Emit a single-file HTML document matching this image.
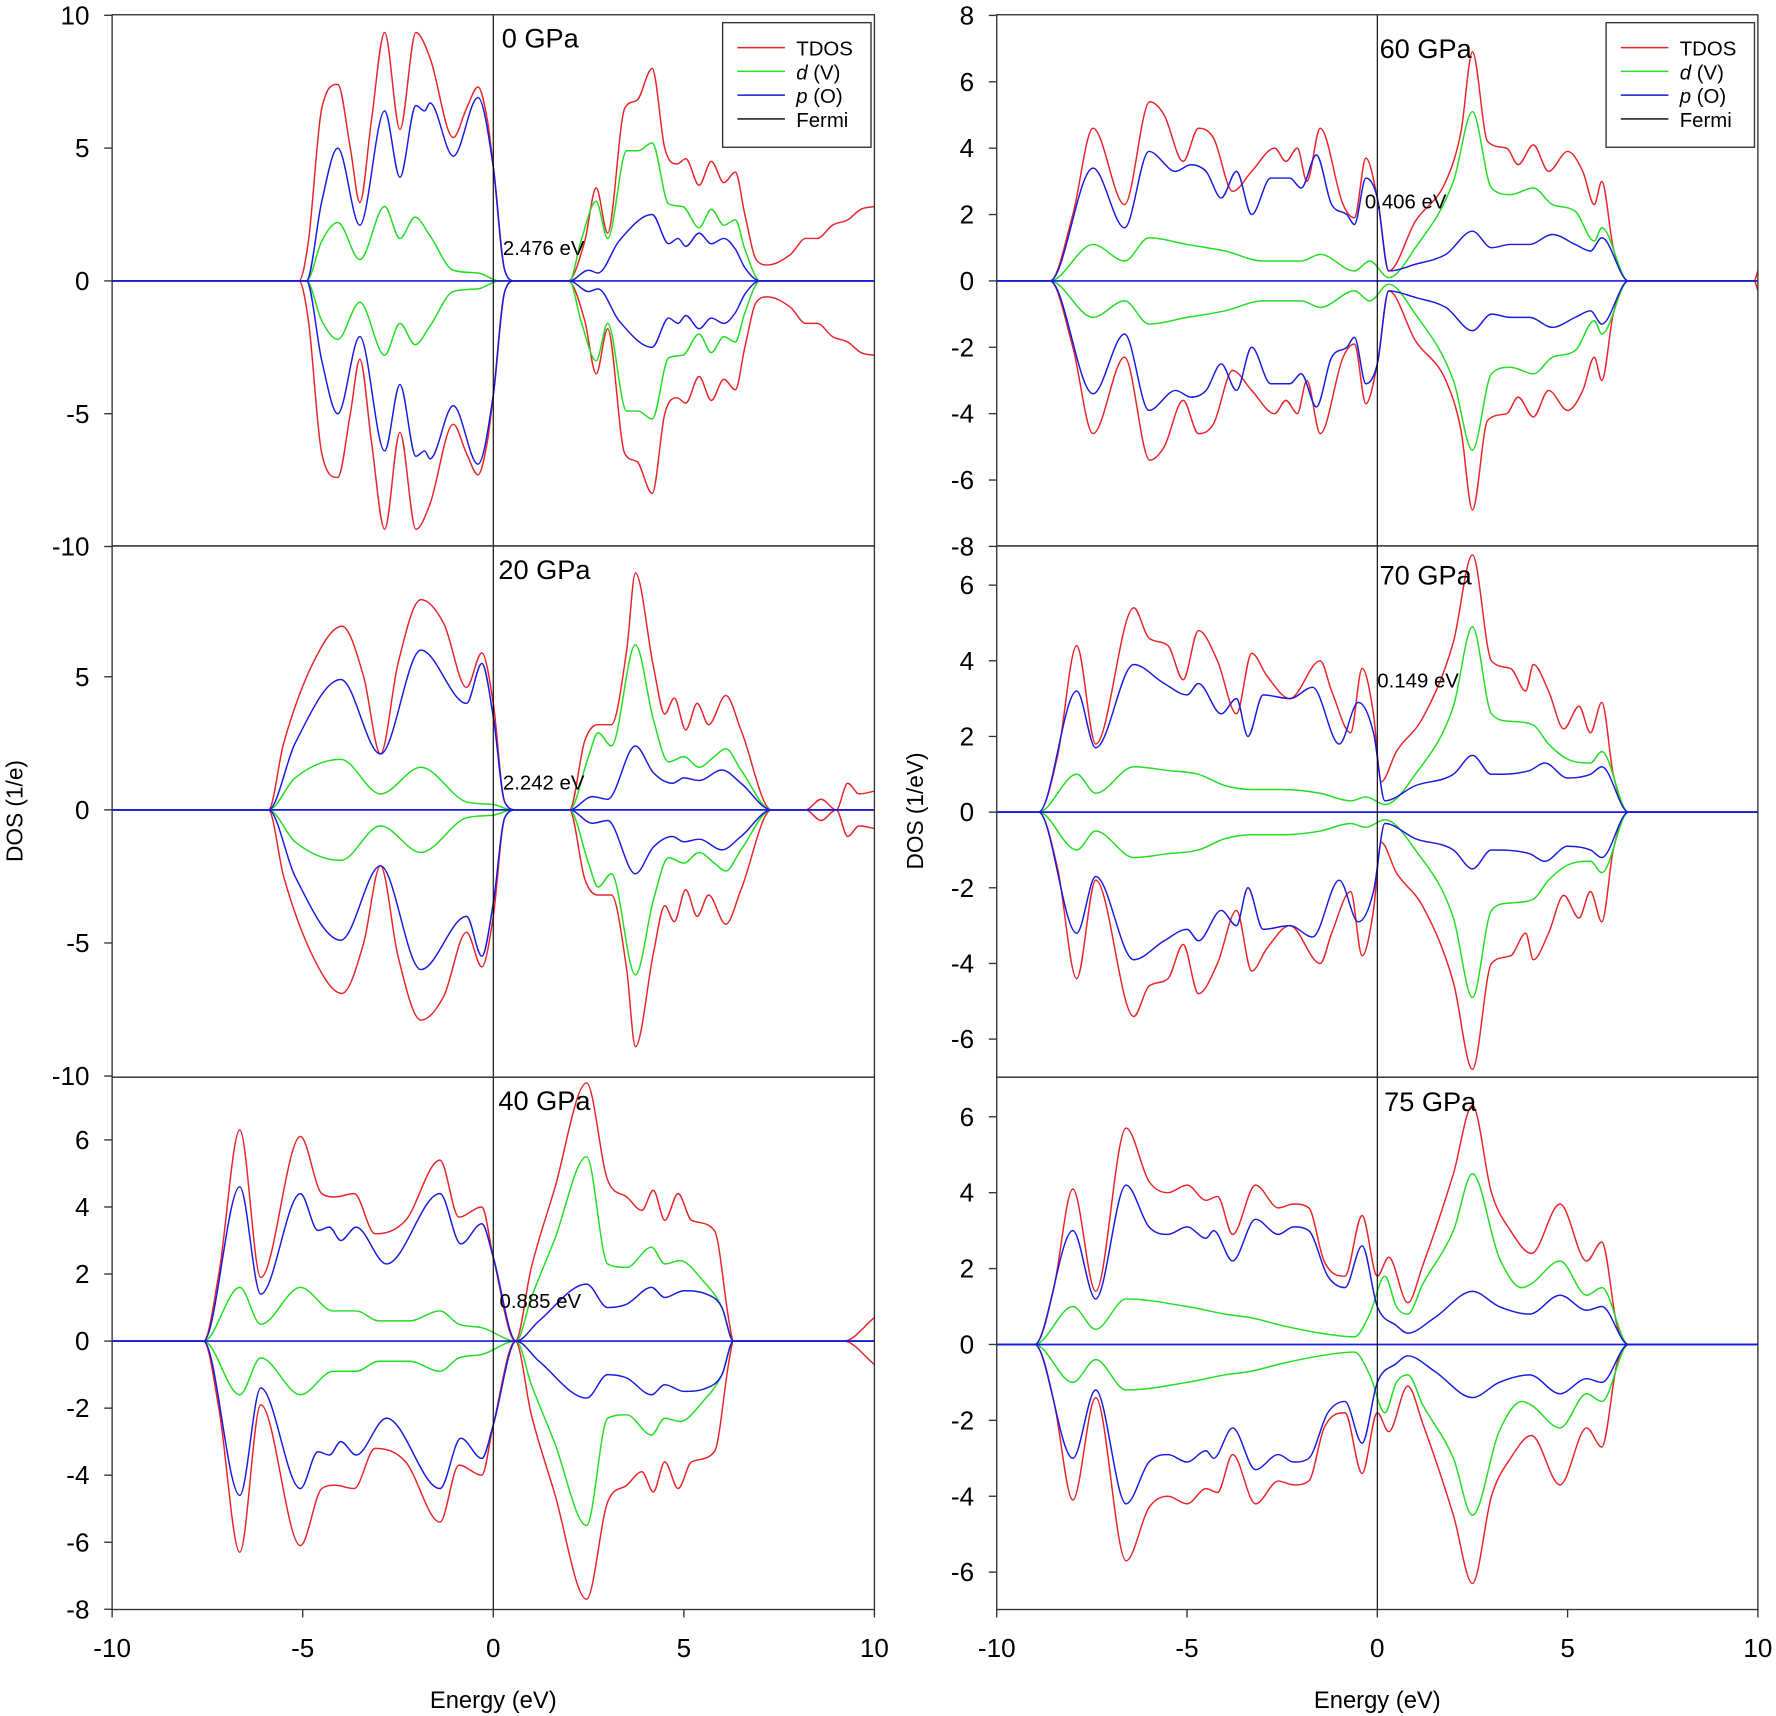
<!DOCTYPE html>
<html><head><meta charset="utf-8"><style>
html,body{margin:0;padding:0;background:#fff}
svg{display:block}
text{font-family:"Liberation Sans",Arial,sans-serif;fill:#000}
</style></head><body>
<svg id="s" width="1776" height="1716" viewBox="0 0 1568 1515" xmlns="http://www.w3.org/2000/svg">
<g id="g"></g>
</svg>
<script>
var NS="http://www.w3.org/2000/svg",g=document.getElementById('g');
function el(t,a,txt){var e=document.createElementNS(NS,t);for(var k in a)e.setAttribute(k,a[k]);if(txt!=null)e.textContent=txt;g.appendChild(e);return e;}
function mono(p,tf){var n=p.length,d=[],m=[];for(var i=0;i<n-1;i++)d.push((p[i+1][1]-p[i][1])/(p[i+1][0]-p[i][0]));
 m[0]=d[0];m[n-1]=d[n-2];for(i=1;i<n-1;i++){m[i]=(d[i-1]*d[i]<=0)?0:(d[i-1]+d[i])/2;}
 for(i=0;i<n-1;i++){if(d[i]==0){m[i]=0;m[i+1]=0;continue;}var a=m[i]/d[i],b=m[i+1]/d[i],s=a*a+b*b;if(s>9){var t=3/Math.sqrt(s);m[i]=t*a*d[i];m[i+1]=t*b*d[i];}}
 var q=tf(p[0]);var s="M"+q[0].toFixed(1)+","+q[1].toFixed(1);
 for(i=0;i<n-1;i++){var h=p[i+1][0]-p[i][0];var c1=tf([p[i][0]+h/3,p[i][1]+m[i]*h/3]),c2=tf([p[i+1][0]-h/3,p[i+1][1]-m[i+1]*h/3]),e=tf(p[i+1]);
 s+="C"+c1[0].toFixed(1)+","+c1[1].toFixed(1)+" "+c2[0].toFixed(1)+","+c2[1].toFixed(1)+" "+e[0].toFixed(1)+","+e[1].toFixed(1);}return s;}
function P(a){var r=[];for(var i=0;i<a.length;i+=2)r.push([a[i],a[i+1]]);return r;}
var panels=[
{x0:99,x1:772,y0:13,y1:482,zy:248,sy:23.45,lab:"0 GPa",lx:443,ly:42,gap:"2.476 eV",gx:444,gy:225,
 ticks:[10,5,0,-5,-10],legend:1,
 T:P([-10,0,-5.1,0,-4.85,1.5,-4.5,6.5,-4.08,7.4,-3.75,5,-3.5,2.95,-3.2,6,-2.85,9.35,-2.45,5.7,-2.03,9.35,-1.66,8.4,-1.05,5.4,-0.7,6.5,-0.4,7.3,-0.15,6,0,4.3,0.3,0.4,0.56,0,1.96,0,2.4,1.5,2.7,3.5,3.0,1.8,3.45,6.5,3.77,6.8,4.17,8.0,4.5,5,4.82,4.4,5.05,4.6,5.4,3.6,5.72,4.5,6.05,3.7,6.35,4.1,6.6,2.5,6.9,0.8,7.2,0.6,7.8,1.0,8.2,1.6,8.5,1.6,8.9,2.1,9.3,2.3,9.65,2.7,10,2.8]),
 D:P([-10,0,-4.9,0,-4.5,1.5,-4.08,2.2,-3.5,0.8,-2.85,2.8,-2.45,1.6,-2.05,2.4,-1.66,1.7,-1.05,0.4,-0.4,0.3,0.15,0,2.0,0,2.3,1.5,2.7,3.0,3.0,1.6,3.5,4.9,3.8,4.9,4.17,5.2,4.6,2.9,4.97,2.8,5.4,2.0,5.72,2.7,6.05,2.1,6.35,2.3,6.6,1.2,7.0,0,10,0]),
 B:P([-10,0,-4.9,0,-4.5,3,-4.08,5.0,-3.5,2.1,-2.85,6.4,-2.45,3.9,-2.03,6.6,-1.8,6.4,-1.66,6.7,-1.05,4.7,-0.4,6.9,0,4.3,0.3,0.4,0.56,0,2.0,0,2.5,0.4,2.75,0.3,3.3,1.5,4.17,2.5,4.6,1.4,4.85,1.6,5.05,1.3,5.4,1.8,5.72,1.4,6.05,1.6,6.35,1.2,6.6,0.5,7.0,0,10,0])},
{x0:99,x1:772,y0:482,y1:951,zy:715,sy:23.5,lab:"20 GPa",lx:440,ly:511,gap:"2.242 eV",gx:444,gy:697,
 ticks:[5,0,-5,-10],
 T:P([-10,0,-5.9,0,-5.5,2.5,-4.7,5.6,-3.97,6.9,-3.4,5,-2.96,2.1,-2.5,5.5,-1.9,7.9,-1.3,7,-0.7,4.6,-0.3,5.9,0,4,0.3,0.3,0.6,0,2.0,0,2.4,2.6,2.75,3.2,3.1,3.2,3.5,6,3.73,8.9,4.2,5.4,4.5,3.6,4.75,4.2,5.05,3.0,5.35,4.0,5.65,3.2,6.1,4.3,6.5,3,7.3,0,8.2,0,8.6,0.4,9.0,0,9.3,1,9.6,0.6,10,0.7]),
 D:P([-10,0,-5.9,0,-5.2,1.2,-4.0,1.9,-2.96,0.6,-1.9,1.6,-0.7,0.3,0,0.2,0.5,0,2.0,0,2.5,2.0,2.75,2.9,3.1,2.4,3.73,6.2,4.2,3.4,4.6,1.8,5.0,2.0,5.4,1.6,5.8,2.0,6.1,2.3,6.5,1.5,7.3,0,10,0]),
 B:P([-10,0,-5.9,0,-5.2,2.5,-4.0,4.9,-2.96,2.1,-1.9,6.0,-0.7,4.0,-0.3,5.5,0,3.5,0.3,0.3,0.6,0,2.0,0,2.6,0.5,3.0,0.4,3.73,2.4,4.2,1.4,4.7,1.0,5.0,1.2,5.4,1.1,6.0,1.5,6.5,1.0,7.3,0,10,0])},
{x0:99,x1:772,y0:951,y1:1421,zy:1184,sy:29.6,lab:"40 GPa",lx:440,ly:980,gap:"0.885 eV",gx:441,gy:1155,
 ticks:[6,4,2,0,-2,-4,-6,-8],
 T:P([-10,0,-7.6,0,-7.2,2,-6.65,6.3,-6.1,1.9,-5.06,6.1,-4.5,4.4,-4.15,4.3,-3.65,4.4,-3.1,3.2,-2.3,3.6,-1.4,5.4,-0.9,3.7,-0.3,4.0,0,2.5,0.58,0,1.0,2.2,1.6,4.5,2.45,7.7,3.0,4.8,3.5,4.3,3.9,3.9,4.2,4.5,4.5,3.6,4.85,4.4,5.2,3.6,5.8,3.3,6.2,0.5,6.3,0,9.2,0,10,0.7]),
 D:P([-10,0,-7.6,0,-6.65,1.6,-6.1,0.5,-5.06,1.6,-4.2,0.9,-3.6,0.9,-3.0,0.6,-2.2,0.6,-1.4,0.9,-0.9,0.5,-0.3,0.4,0.6,0,1.0,1.3,1.6,3.0,2.45,5.5,3.0,2.3,3.5,2.2,4.15,2.8,4.5,2.3,4.9,2.4,5.5,1.8,6.0,1.0,6.3,0,10,0]),
 B:P([-10,0,-7.6,0,-6.65,4.6,-6.1,1.4,-5.06,4.4,-4.6,3.3,-4.3,3.4,-4.0,3.0,-3.6,3.4,-2.8,2.3,-1.4,4.4,-0.85,2.9,-0.3,3.5,0,2.5,0.6,0,1.2,0.6,2.45,1.7,3.0,1.0,3.5,1.1,4.15,1.6,4.5,1.3,5.0,1.5,5.6,1.4,6.0,1.0,6.3,0,10,0])},
{x0:880,x1:1552,y0:13,y1:482,zy:248,sy:29.3,lab:"60 GPa",lx:1218,ly:51,gap:"0.406 eV",gx:1205,gy:184,
 ticks:[8,6,4,2,0,-2,-4,-6,-8],legend:1,
 T:P([-10,0,-8.6,0,-8.0,2,-7.47,4.6,-6.64,2.3,-5.98,5.4,-5.6,5,-5.1,3.6,-4.7,4.6,-4.3,4.3,-3.8,2.7,-3.3,3.3,-2.7,4,-2.4,3.6,-2.1,4,-1.85,3.0,-1.5,4.6,-0.9,2.3,-0.6,1.9,-0.3,3.7,0,2.5,0.3,0.3,1.0,1.8,1.8,3.0,2.2,4.5,2.5,6.9,2.9,4.2,3.4,4.0,3.7,3.5,4.1,4.1,4.5,3.3,5.0,3.9,5.4,3.3,5.7,2.3,5.9,3.0,6.2,1,6.6,0,9.9,0,10,0.3]),
 D:P([-10,0,-8.6,0,-7.47,1.1,-6.64,0.6,-6.0,1.3,-5.0,1.1,-4.0,0.9,-3.0,0.6,-2.0,0.6,-1.5,0.8,-0.6,0.3,-0.2,0.6,0.3,0.1,1.0,1.0,2.0,3.0,2.5,5.1,3.0,2.8,3.5,2.6,4.1,2.8,4.6,2.3,5.2,2.1,5.7,1.2,5.9,1.6,6.6,0,10,0]),
 B:P([-10,0,-8.6,0,-7.47,3.4,-6.64,1.6,-6.0,3.9,-5.3,3.3,-4.9,3.5,-4.5,3.3,-4.1,2.5,-3.7,3.3,-3.3,2.0,-2.8,3.1,-2.3,3.1,-2.0,2.8,-1.6,3.8,-1.2,2.3,-0.8,2.0,-0.6,1.7,-0.3,3.1,0,2.5,0.3,0.3,1.0,0.5,1.8,0.8,2.5,1.5,3.0,1.0,3.5,1.1,4.0,1.1,4.6,1.4,5.2,1.1,5.6,0.9,5.9,1.3,6.6,0,10,0])},
{x0:880,x1:1552,y0:482,y1:951,zy:717,sy:33.4,lab:"70 GPa",lx:1218,ly:516,gap:"0.149 eV",gx:1216,gy:607,
 ticks:[6,4,2,0,-2,-4,-6],
 T:P([-10,0,-8.9,0,-8.4,1.5,-7.9,4.4,-7.4,1.8,-6.4,5.4,-6.0,4.6,-5.5,4.4,-5.1,3.5,-4.7,4.8,-4.2,4.0,-3.7,2.6,-3.3,4.2,-2.9,3.6,-2.3,3.0,-1.5,4.0,-1.2,3.2,-0.7,2.1,-0.4,3.8,-0.1,2.6,0.1,0.8,0.5,1.6,1.2,2.5,2.0,4.5,2.5,6.8,3.0,4.0,3.5,3.8,3.9,3.2,4.1,3.9,4.5,3.2,4.9,2.2,5.3,2.8,5.6,2.1,5.9,2.9,6.2,1,6.6,0,10,0]),
 D:P([-10,0,-8.9,0,-7.9,1.0,-7.4,0.5,-6.4,1.2,-5.5,1.1,-4.7,1.0,-4.0,0.7,-3.3,0.6,-2.5,0.6,-1.5,0.5,-0.7,0.3,-0.3,0.4,0.2,0.2,1.0,1.0,2.0,2.8,2.5,4.9,3.0,2.6,3.5,2.4,4.1,2.3,4.5,1.8,5.0,1.4,5.6,1.3,5.9,1.6,6.6,0,10,0]),
 B:P([-10,0,-8.9,0,-7.9,3.2,-7.4,1.7,-6.4,3.9,-5.6,3.4,-5.0,3.1,-4.7,3.4,-4.1,2.6,-3.7,3.0,-3.4,2.0,-3.0,3.1,-2.3,3.0,-1.7,3.3,-1.0,1.8,-0.5,2.9,-0.1,2.1,0.2,0.3,1.0,0.7,2.0,1.0,2.5,1.5,3.0,1.0,4.0,1.1,4.4,1.3,5.0,0.9,5.6,1.0,5.9,1.2,6.6,0,10,0])},
{x0:880,x1:1552,y0:951,y1:1421,zy:1187,sy:33.5,lab:"75 GPa",lx:1222,ly:981,gap:"",
 ticks:[6,4,2,0,-2,-4,-6],
 T:P([-10,0,-9.0,0,-8.5,1.5,-8.0,4.1,-7.4,1.4,-6.6,5.7,-6.0,4.3,-5.5,4.0,-5.0,4.2,-4.5,3.8,-4.2,3.9,-3.8,2.9,-3.2,4.2,-2.6,3.6,-2.2,3.7,-1.8,3.6,-1.4,2.2,-0.85,1.8,-0.4,3.4,0,1.8,0.3,2.3,0.8,1.1,1.2,2.1,2.0,4.5,2.5,6.3,3.0,4.0,3.5,3.0,4.05,2.4,4.8,3.7,5.5,2.2,5.9,2.7,6.3,0.5,6.6,0,10,0]),
 D:P([-10,0,-9.0,0,-8.0,1.0,-7.4,0.4,-6.6,1.2,-5.0,1.0,-4.0,0.8,-3.3,0.7,-2.5,0.5,-1.5,0.3,-0.6,0.2,-0.2,0.8,0.2,1.8,0.5,1.0,0.8,0.8,1.2,1.6,2.0,3.0,2.5,4.5,3.2,2.3,3.8,1.5,4.05,1.6,4.8,2.2,5.5,1.3,5.9,1.5,6.6,0,10,0]),
 B:P([-10,0,-9,0,-8,3.0,-7.4,1.2,-6.6,4.2,-6.0,3.1,-5.5,2.9,-5.0,3.1,-4.5,2.8,-4.3,3.0,-3.8,2.2,-3.2,3.3,-2.6,2.9,-2.2,3.1,-1.8,3.0,-1.3,1.8,-0.85,1.5,-0.4,2.6,0,1.0,0.5,0.5,0.8,0.3,1.5,0.7,2.5,1.4,3.2,1.0,4.0,0.8,4.8,1.3,5.5,0.9,5.9,1.0,6.6,0,10,0])}
];
panels.forEach(function(p,i){
 var sx=(p.x1-p.x0)/20,zx=(p.x0+p.x1)/2;
 var cid="c"+i;var cp=el("clipPath",{id:cid});var r=document.createElementNS(NS,"rect");r.setAttribute("x",p.x0);r.setAttribute("y",p.y0);r.setAttribute("width",p.x1-p.x0);r.setAttribute("height",p.y1-p.y0);cp.appendChild(r);
 function mk(pts,sg){return mono(pts,function(q){return [zx+q[0]*sx,p.zy-sg*q[1]*p.sy];});}
 [["T","#e8242a"],["D","#22dd22"],["B","#1a1ae0"]].forEach(function(s){
  [1,-1].forEach(function(sg){el("path",{d:mk(p[s[0]],sg),fill:"none",stroke:s[1],"stroke-width":1.3,"clip-path":"url(#"+cid+")"});});
 });
 el("line",{x1:p.x0,y1:p.zy,x2:p.x1,y2:p.zy,stroke:"#1a1ae0","stroke-width":1.5});
 el("line",{x1:zx,y1:p.y0,x2:zx,y2:p.y1,stroke:"#000","stroke-width":1});
 el("rect",{x:p.x0,y:p.y0,width:p.x1-p.x0,height:p.y1-p.y0,fill:"none",stroke:"#333","stroke-width":1.2});
 p.ticks.forEach(function(t){var y=p.zy-t*p.sy;el("line",{x1:p.x0-7,y1:y,x2:p.x0,y2:y,stroke:"#333","stroke-width":1.2});el("text",{x:p.x0-20,y:y+8,"text-anchor":"end","font-size":23},t);});
 el("text",{x:p.lx,y:p.ly,"font-size":24},p.lab);
 if(p.gap)el("text",{x:p.gx,y:p.gy,"font-size":18},p.gap);
 if(p.legend){var lx=p.x1-134,ly=20;el("rect",{x:lx,y:ly,width:131,height:110,fill:"#fff",stroke:"#333","stroke-width":1.2});
  var items=[["TDOS","#e8242a",""],["(V)","#22dd22","d"],["(O)","#1a1ae0","p"],["Fermi","#000",""]];
  items.forEach(function(it,k){var yy=ly+22+k*21;el("line",{x1:lx+13,y1:yy,x2:lx+55,y2:yy,stroke:it[1],"stroke-width":1.3});
   var t=el("text",{x:lx+65,y:yy+7,"font-size":18});
   if(it[2]){var a=document.createElementNS(NS,"tspan");a.setAttribute("font-style","italic");a.textContent=it[2]+" ";t.appendChild(a);}
   var b=document.createElementNS(NS,"tspan");b.textContent=it[0];t.appendChild(b);});}
 if(i==2||i==5){[-10,-5,0,5,10].forEach(function(e){var x=zx+e*sx;el("line",{x1:x,y1:p.y1,x2:x,y2:p.y1+7,stroke:"#333","stroke-width":1.2});el("text",{x:x,y:p.y1+42,"text-anchor":"middle","font-size":23},e);});
  el("text",{x:zx,y:1508,"text-anchor":"middle","font-size":21},"Energy (eV)");}
});
el("text",{x:20,y:716,"text-anchor":"middle","font-size":20,transform:"rotate(-90 20 716)"},"DOS (1/e)");
el("text",{x:815,y:716,"text-anchor":"middle","font-size":20,transform:"rotate(-90 815 716)"},"DOS (1/eV)");
</script>
</body></html>
